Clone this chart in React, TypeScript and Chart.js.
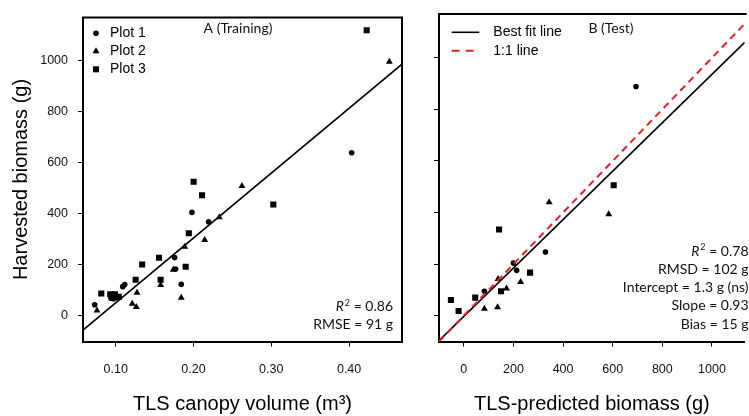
import React, { useEffect, useRef } from 'react';
import { Chart, registerables } from 'chart.js';

Chart.register(...registerables);

// ---------- Panel A (Training) data ----------
const trainPlot1X = [0.198, 0.2195, 0.1758, 0.177, 0.1843, 0.1116, 0.109, 0.094, 0.101, 0.097, 0.073, 0.4033];
const trainPlot1Y = [406, 369, 229, 184, 124, 123, 115, 70, 72, 68, 44, 640];
const trainPlot2X = [0.4517, 0.2623, 0.2332, 0.2144, 0.1887, 0.174, 0.1578, 0.1274, 0.1843, 0.1213, 0.1265, 0.076];
const trainPlot2Y = [997, 510, 387, 298, 271, 181, 121, 91, 71, 48, 35, 22];
const trainPlot3X = [0.4226, 0.2002, 0.211, 0.3026, 0.194, 0.1557, 0.134, 0.19, 0.1257, 0.1578, 0.0815, 0.093, 0.099, 0.104];
const trainPlot3Y = [1120, 526, 473, 437, 324, 228, 202, 193, 142, 142, 88, 85, 85, 75];
const trainFitX = [0.058, 0.468];
const trainFitY = [-55, 987];
const trainXTicks = [0.1, 0.2, 0.3, 0.4];
const trainXRange = [0.058, 0.468];

// ---------- Panel B (Test) data ----------
const testPlot1X = [694, 329, 200, 213, 83];
const testPlot1Y = [889, 247, 204, 176, 95];
const testPlot2X = [344, 584, 138, 229, 172, 83, 136];
const testPlot2Y = [440, 393, 142, 131, 106, 27, 33];
const testPlot3X = [142, 604, 267, 150, 46, -52, -21];
const testPlot3Y = [334, 506, 167, 95, 70, 61, 18];
const testFitX = [-100, 1132];
const testFitY = [-97, 1060];
const oneToOneX = [-100, 1132];
const oneToOneY = [-100, 1132];
const testXTicks = [0, 200, 400, 600, 800, 1000];
const testXRange = [-100, 1132];

// ---------- shared ----------
const yTicks = [0, 200, 400, 600, 800, 1000];
const yRange = [-100, 1170];
const plotLabels = ['Plot 1', 'Plot 2', 'Plot 3'];
const lineLabels = ['Best fit line', '1:1 line'];
const trainStatNames = ['R2', 'RMSE'];
const trainStatValues = ['0.86', '91 g'];
const testStatNames = ['R2', 'RMSD', 'Intercept', 'Slope', 'Bias'];
const testStatValues = ['0.78', '102 g', '1.3 g (ns)', '0.93', '15 g'];

const AX_FONT = '"Liberation Sans", Arial, sans-serif';
const TXT_FONT = 'Lato, "Open Sans", sans-serif';
const RED = '#ee1c25';

const zip = (xs: number[], ys: number[]) => xs.map((x, i) => ({ x, y: ys[i] }));

function drawStats(ctx: CanvasRenderingContext2D, names: string[], values: string[], rightX: number, firstY: number, step: number) {
  ctx.save();
  ctx.fillStyle = '#111';
  ctx.textBaseline = 'middle';
  ctx.textAlign = 'left';
  names.forEach((name, i) => {
    const y = firstY + i * step;
    if (name === 'R2') {
      const rest = ' = ' + values[i];
      ctx.font = `italic 14px ${TXT_FONT}`;
      const wR = ctx.measureText('R').width;
      ctx.font = `9px ${TXT_FONT}`;
      const w2 = ctx.measureText('2').width;
      ctx.font = `14px ${TXT_FONT}`;
      const wRest = ctx.measureText(rest).width;
      let x = rightX - (wR + w2 + 1 + wRest);
      ctx.font = `italic 14px ${TXT_FONT}`;
      ctx.fillText('R', x, y);
      x += wR + 1;
      ctx.font = `9px ${TXT_FONT}`;
      ctx.fillText('2', x, y - 4);
      x += w2;
      ctx.font = `14px ${TXT_FONT}`;
      ctx.fillText(rest, x, y);
    } else {
      ctx.font = `14px ${TXT_FONT}`;
      ctx.textAlign = 'right';
      ctx.fillText(name + ' = ' + values[i], rightX, y);
      ctx.textAlign = 'left';
    }
  });
  ctx.restore();
}

function framePlugin(drawRight: boolean) {
  return {
    id: 'frame',
    afterDraw(chart: any) {
      const { ctx, chartArea } = chart;
      ctx.save();
      ctx.strokeStyle = '#000';
      ctx.lineWidth = 2;
      ctx.beginPath();
      ctx.moveTo(chartArea.left - 1, chartArea.top);
      ctx.lineTo(chartArea.right + (drawRight ? 1 : 2), chartArea.top);
      if (drawRight) {
        ctx.moveTo(chartArea.right, chartArea.top);
        ctx.lineTo(chartArea.right, chartArea.bottom + 1);
      }
      ctx.stroke();
      ctx.restore();
    },
  };
}

function axisCommon(ticks: number[], range: number[], sizeKey: 'width' | 'height', size: number, labelsShown: boolean, pad: number, fmt: (v: number) => string, title?: string, titlePad?: any) {
  return {
    type: 'linear' as const,
    min: range[0],
    max: range[1],
    afterBuildTicks: (s: any) => {
      s.ticks = ticks.map((v) => ({ value: v }));
    },
    afterFit: (s: any) => {
      s[sizeKey] = size;
    },
    ticks: {
      display: labelsShown,
      padding: pad,
      color: '#111',
      font: { family: AX_FONT, size: 12.5 },
      autoSkip: false,
      maxRotation: 0,
      callback: (v: any) => fmt(Number(v)),
    },
    grid: { display: true, drawOnChartArea: false, drawTicks: true, tickLength: 5, color: '#000', lineWidth: 1 },
    border: { display: true, color: '#000', width: 2 },
    title: {
      display: !!title,
      text: title || '',
      color: '#000',
      font: { family: AX_FONT, size: 20 },
      padding: titlePad || { top: 0, bottom: 0 },
    },
  };
}

const markerSets = [
  { style: 'circle', radius: 2.8 },
  { style: 'triangle', radius: 4 },
  { style: 'rect', radius: 4.3 },
];

function drawMarker(ctx: CanvasRenderingContext2D, style: string, x: number, y: number) {
  ctx.beginPath();
  if (style === 'circle') {
    ctx.arc(x, y, 2.8, 0, Math.PI * 2);
  } else if (style === 'triangle') {
    ctx.moveTo(x, y - 4);
    ctx.lineTo(x + 3.5, y + 2);
    ctx.lineTo(x - 3.5, y + 2);
    ctx.closePath();
  } else {
    ctx.rect(x - 3, y - 3, 6, 6);
  }
  ctx.fill();
}

export default function App() {
  const leftRef = useRef<HTMLCanvasElement>(null);
  const rightRef = useRef<HTMLCanvasElement>(null);

  useEffect(() => {
    const pointDs = (label: string, xs: number[], ys: number[], idx: number) => ({
      label,
      data: zip(xs, ys),
      pointStyle: markerSets[idx].style,
      pointRadius: markerSets[idx].radius,
      pointHoverRadius: markerSets[idx].radius,
      pointBackgroundColor: '#000',
      pointBorderWidth: 0,
      backgroundColor: '#000',
      borderColor: '#000',
      showLine: false,
    });

    const leftChart = new Chart(leftRef.current!, {
      type: 'scatter',
      data: {
        datasets: [
          {
            label: 'Best fit line',
            data: zip(trainFitX, trainFitY),
            showLine: true,
            borderColor: '#000',
            borderWidth: 1.6,
            pointRadius: 0,
          } as any,
          pointDs(plotLabels[0], trainPlot1X, trainPlot1Y, 0),
          pointDs(plotLabels[1], trainPlot2X, trainPlot2Y, 1),
          pointDs(plotLabels[2], trainPlot3X, trainPlot3Y, 2),
        ],
      },
      options: {
        responsive: false,
        animation: false,
        layout: { padding: { top: 14, right: 8, left: 0, bottom: 0 } },
        plugins: { legend: { display: false }, tooltip: { enabled: false } },
        scales: {
          x: axisCommon(trainXTicks, trainXRange, 'height', 74.5, true, 16, (v) => v.toFixed(2), 'TLS canopy volume (m³)', { top: 0, bottom: 0 }),
          y: axisCommon(yTicks, yRange, 'width', 83, true, 10, (v) => String(v), 'Harvested biomass (g)', { top: 9, bottom: 0 }),
        },
      } as any,
      plugins: [
        framePlugin(true),
        {
          id: 'decoA',
          afterDraw(chart: any) {
            const ctx: CanvasRenderingContext2D = chart.ctx;
            ctx.save();
            ctx.fillStyle = '#000';
            ctx.textBaseline = 'middle';
            ctx.font = `14px ${AX_FONT}`;
            plotLabels.forEach((lab, i) => {
              const y = 33.3 + i * 18;
              drawMarker(ctx, markerSets[i].style, 96, y);
              ctx.fillText(lab, 110, y);
            });
            ctx.font = `14px ${TXT_FONT}`;
            ctx.fillStyle = '#111';
            ctx.textAlign = 'center';
            ctx.fillText('A (Training)', 238, 28);
            ctx.restore();
            drawStats(ctx, trainStatNames, trainStatValues, 393, 306.7, 17.6);
          },
        },
      ],
    });

    const rightChart = new Chart(rightRef.current!, {
      type: 'scatter',
      data: {
        datasets: [
          {
            label: lineLabels[1],
            data: zip(oneToOneX, oneToOneY),
            showLine: true,
            borderColor: RED,
            borderWidth: 2,
            borderDash: [7, 5],
            pointRadius: 0,
          } as any,
          {
            label: lineLabels[0],
            data: zip(testFitX, testFitY),
            showLine: true,
            borderColor: '#000',
            borderWidth: 1.6,
            pointRadius: 0,
          } as any,
          pointDs(plotLabels[0], testPlot1X, testPlot1Y, 0),
          pointDs(plotLabels[1], testPlot2X, testPlot2Y, 1),
          pointDs(plotLabels[2], testPlot3X, testPlot3Y, 2),
        ],
      },
      options: {
        responsive: false,
        animation: false,
        layout: { padding: { top: 14, right: 0, left: 0, bottom: 0 } },
        plugins: { legend: { display: false }, tooltip: { enabled: false } },
        scales: {
          x: axisCommon(testXTicks, testXRange, 'height', 74.5, true, 16, (v) => String(v), 'TLS-predicted biomass (g)', { top: 0, bottom: 0 }),
          y: axisCommon(yTicks, yRange, 'width', 29, false, 10, (v) => String(v)),
        },
      } as any,
      plugins: [
        framePlugin(false),
        {
          id: 'decoB',
          afterDraw(chart: any) {
            const ctx: CanvasRenderingContext2D = chart.ctx;
            const ox = 410;
            ctx.save();
            ctx.lineWidth = 1.6;
            ctx.strokeStyle = '#000';
            ctx.beginPath();
            ctx.moveTo(451.7 - ox, 32.3);
            ctx.lineTo(479.3 - ox, 32.3);
            ctx.stroke();
            ctx.strokeStyle = RED;
            ctx.lineWidth = 2;
            ctx.setLineDash([8, 6]);
            ctx.beginPath();
            ctx.moveTo(451.7 - ox, 50.7);
            ctx.lineTo(479.3 - ox, 50.7);
            ctx.stroke();
            ctx.setLineDash([]);
            ctx.fillStyle = '#000';
            ctx.textBaseline = 'middle';
            ctx.font = `14px ${AX_FONT}`;
            ctx.fillText(lineLabels[0], 493.3 - ox, 32.3);
            ctx.fillText(lineLabels[1], 493.3 - ox, 50.7);
            ctx.font = `14px ${TXT_FONT}`;
            ctx.fillStyle = '#111';
            ctx.textAlign = 'center';
            ctx.fillText('B (Test)', 611 - ox, 28);
            ctx.restore();
            drawStats(ctx, testStatNames, testStatValues, 748.5 - ox, 251, 18.25);
          },
        },
      ],
    });

    return () => {
      leftChart.destroy();
      rightChart.destroy();
    };
  }, []);

  return (
    <div style={{ position: 'absolute', left: 0, top: 0, width: 749, height: 416, overflow: 'hidden', background: '#fff' }}>
      <canvas ref={leftRef} width={410} height={416} style={{ position: 'absolute', left: 0, top: 0, width: 410, height: 416 }} />
      <canvas ref={rightRef} width={339} height={416} style={{ position: 'absolute', left: 410, top: 0, width: 339, height: 416 }} />
    </div>
  );
}
